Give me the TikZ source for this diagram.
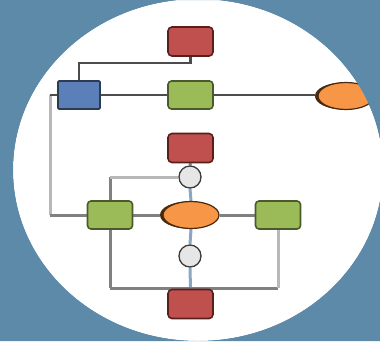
\documentclass[tikz,border=0pt]{standalone}
\usetikzlibrary{shapes.geometric}
\pgfdeclarelayer{canvas}
\pgfdeclarelayer{links}
\pgfsetlayers{canvas,links,main}
\definecolor{bgblue}{HTML}{5E8AAA}
\definecolor{redfill}{HTML}{C0504D}
\definecolor{redline}{HTML}{5A1E1C}
\definecolor{bluefill}{HTML}{5B7FB8}
\definecolor{blueline}{HTML}{2D3B50}
\definecolor{greenfill}{HTML}{9BBB59}
\definecolor{greenline}{HTML}{4B5A2B}
\definecolor{orangefill}{HTML}{F79646}
\definecolor{orangeline}{HTML}{4A2A0E}
\definecolor{dotfill}{HTML}{E6E6E6}
\definecolor{dotline}{HTML}{3A3A3A}
\definecolor{linkblue}{HTML}{8AA6C4}
\tikzset{
  box/.style={rectangle, inner sep=0pt, line width=1.6pt},
  redbox/.style={box, fill=redfill, draw=redline, rounded corners=4pt,
    minimum width=45pt, minimum height=29pt},
  greenbox/.style={box, fill=greenfill, draw=greenline, rounded corners=3.5pt,
    minimum width=45pt, minimum height=28pt},
  bluebox/.style={box, fill=bluefill, draw=blueline, rounded corners=1pt,
    minimum width=42pt, minimum height=28pt},
  terminal/.style={ellipse, inner sep=0pt, fill=orangefill, draw=orangeline,
    line width=1.2pt, minimum width=56pt, minimum height=27pt},
  terminalshade/.style={ellipse, inner sep=0pt, fill=orangeline,
    minimum width=56pt, minimum height=27pt},
  junction/.style={circle, inner sep=0pt, fill=dotfill, draw=dotline,
    line width=1.3pt, minimum size=22pt},
  darklink/.style={draw=black!70, line width=2.2pt},
  midlink/.style={draw=black!50, line width=3pt},
  lightlink/.style={draw=black!28, line width=3pt},
  bluelink/.style={draw=linkblue, line width=3pt},
}
\newcommand{\ovalpath}{(198,170) ellipse [x radius=185pt, y radius=171pt]}
\begin{document}
\begin{tikzpicture}[x=1pt,y=-1pt]
  \useasboundingbox (0,0) rectangle (380,341);

  % canvas: blue field with a white oval
  \begin{pgfonlayer}{canvas}
    \fill[bgblue] (0,0) rectangle (380,341);
    \fill[white] \ovalpath;
  \end{pgfonlayer}

  % nodes
  \node[redbox]   (red1)   at (190.5,41.5) {};
  \node[bluebox]  (blue)   at (79,95)      {};
  \node[greenbox] (green1) at (190.5,95)   {};
  \node[terminalshade] (shade1) at (343,96) {};
  \node[terminal] (orange1) at (346,96)    {};
  \node[redbox]   (red2)   at (190.5,148)  {};
  \node[junction] (dot1)   at (190,177)    {};
  \node[greenbox] (green2) at (110,215)    {};
  \node[terminalshade] (shade2) at (188,215) {};
  \node[terminal] (orange2) at (191,215)   {};
  \node[greenbox] (green3) at (278,215)    {};
  \node[junction] (dot2)   at (190,256)    {};
  \node[redbox]   (red3)   at (190.5,304)  {};

  % bend points
  \coordinate (topbend) at (190.5,63);
  \coordinate (railtop) at (50,95);
  \coordinate (railbot) at (50,215);
  \coordinate (loopup)  at (110,177);
  \coordinate (loopbl)  at (110,288);
  \coordinate (loopbr)  at (278,288);

  % connectors, under the nodes
  \begin{pgfonlayer}{links}
    \path[darklink] (red1.south) -- (topbend) -| (blue.north);
    \path[darklink] (blue.east) -- (green1.west);
    \path[darklink] (green1.east) -- (green1.east -| shade1.west);
    \path[lightlink] (railtop) -- (railbot);
    \path[darklink] (blue.west) -- (railtop);
    \path[midlink] (railbot) -- (green2.west);
    \path[midlink] (green2.north) -- (loopup);
    \path[lightlink] (loopup) -- (dot1.west);
    \path[midlink] (red2.south) -- (dot1.north);
    \path[bluelink] (dot1.south) -- (orange2.north);
    \path[midlink] (green2.east) -- (shade2.west);
    \path[midlink] (orange2.east) -- (green3.west);
    \path[bluelink] (orange2.south) -- (dot2.north);
    \path[bluelink] (dot2.south) -- (red3.north);
    \path[midlink] (green2.south) -- (loopbl);
    \path[midlink] (loopbl) -- (loopbr);
    \path[lightlink] (loopbr) -- (green3.south);
  \end{pgfonlayer}

  % blue field again outside the oval, trimming the right-hand terminal
  \fill[bgblue, even odd rule] (0,0) rectangle (380,341) \ovalpath;
\end{tikzpicture}
\end{document}
